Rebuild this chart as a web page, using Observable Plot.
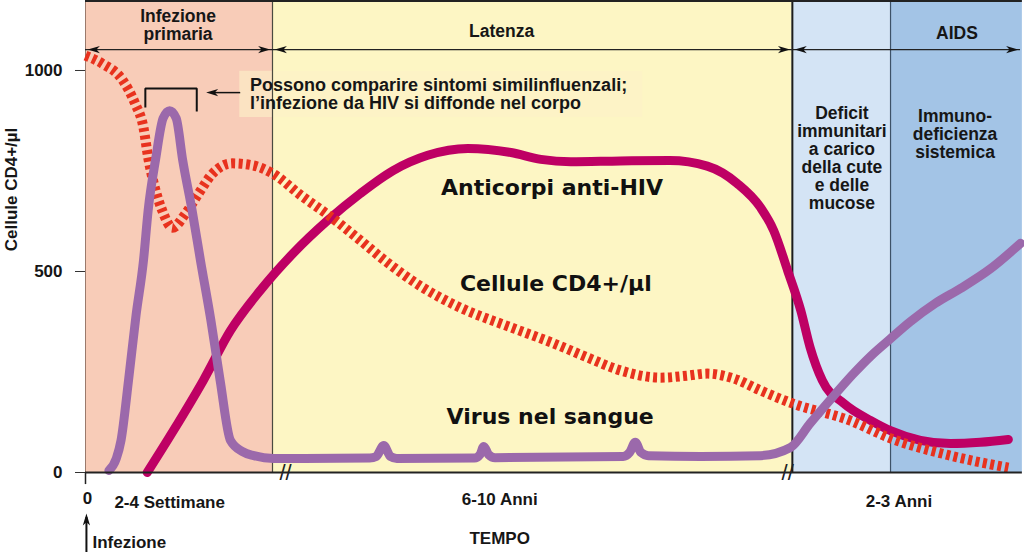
<!DOCTYPE html>
<html><head><meta charset="utf-8">
<script src="https://cdn.jsdelivr.net/npm/d3@7"></script>
<script src="https://cdn.jsdelivr.net/npm/@observablehq/plot@0.6"></script>
<style>html,body{margin:0;padding:0;background:#fff;} #chart svg{display:block;}</style>
</head><body><div id="chart"></div>
<script>
// ---- data (time in arbitrary units 0..100 along a broken axis, values in cells/µl) ----
const phaseNames = ["Infezione primaria", "Latenza", "Deficit", "AIDS"];
const phaseStart = [0, 20, 75.6, 86.1];
const phaseEnd = [20, 75.6, 86.1, 100.2];

const arrowStart = [0, 20, 75.6];
const arrowEnd = [20, 75.6, 100];

const phaseLabelText = ["Infezione\nprimaria", "Latenza", "AIDS"];
const phaseLabelT = [9.9, 44.5, 93.2];
const phaseLabelV = [1113, 1097, 1092];

const stageText = ["Deficit\nimmunitari\na carico\ndella cute\ne delle\nmucose", "Immuno-\ndeficienza\nsistemica"];
const stageT = [80.9, 93.0];
const stageV = [781, 841];

const curveNames = ["Anticorpi anti-HIV", "Cellule CD4+/µl", "Virus nel sangue"];
const curveLabelT = [49.9, 50.3, 49.7];
const curveLabelV = [709, 470, 137];

const yTicks = [0, 500, 1000];
const timeLabels = ["2-4 Settimane", "6-10 Anni", "2-3 Anni"];
const timeLabelT = [9.0, 44.3, 87.0];
const timeLabelV = [-75, -67, -72];
const axisBreakT = [21.4, 75.1];

const cd4T = [0, 1.8, 4.0, 5.3, 6.2, 6.7, 7.3, 8.2, 9.3, 10.7, 12.1, 13.6, 15.7, 17.9, 20.0, 23.0, 26.0, 29.0, 32.3, 35.8, 40.1, 45.5, 50.1, 53.7, 57.2, 61.5, 64.4, 66.5, 69.3, 72.2, 75.6, 81.8, 86.1, 92.5, 98.7];
const cd4V = [1037, 1017, 975, 918, 858, 784, 719, 652, 609, 644, 694, 744, 769, 764, 744, 690, 640, 585, 522, 464, 410, 361, 321, 286, 254, 236, 241, 246, 234, 204, 172, 129, 85, 42, 12];

const abT = [6.6, 9.4, 12.6, 15.5, 18.7, 22.2, 25.9, 29.4, 32.9, 36.6, 40.9, 45.5, 48.7, 51.9, 57.2, 62.5, 66.5, 69.7, 72.2, 73.6, 75.1, 76.5, 77.5, 78.8, 81.1, 84.0, 86.1, 89.3, 92.5, 95.7, 98.7];
const abV = [0, 104, 229, 353, 453, 545, 627, 694, 751, 789, 806, 796, 779, 773, 775, 776, 762, 719, 659, 602, 502, 403, 311, 229, 172, 129, 104, 80, 72, 75, 82];

const virT = [2.5, 3.3, 3.8, 4.6, 5.4, 6.2, 6.7, 7.5, 8.3, 9.0, 9.7, 10.4, 11.4, 12.3, 13.4, 14.4, 15.5, 16.8, 18.0, 20.1, 30.4, 31.1, 31.9, 32.6, 33.3, 41.6, 42.2, 42.6, 43.1, 43.8, 57.5, 58.2, 58.8, 59.4, 60.2, 65.8, 72.2, 75.4, 77.5, 80.0, 82.1, 84.0, 86.1, 88.2, 90.9, 93.6, 96.8, 100];
const virV = [5, 35, 80, 229, 390, 527, 652, 779, 881, 900, 881, 776, 652, 527, 380, 229, 80, 52, 42, 35, 36, 40, 67, 40, 35, 36, 45, 65, 45, 37, 40, 50, 75, 50, 42, 40, 42, 62, 122, 190, 245, 290, 333, 375, 421, 458, 507, 570];

const noteText = "Possono comparire sintomi similinfluenzali;\nl’infezione da HIV si diffonde nel corpo";
const noteT = [17.6];
const noteV = [940];
const noteBoxT = [16.5, 59.6];
const noteBoxV = [883, 998];
const bracketT = [6.4, 6.4, 11.9, 11.9];
const bracketV = [908, 955, 955, 898];
const noteArrowT = [16.6, 12.9];
const noteArrowV = 945;

const yDomain = [-211.4, 1174.1];

// ---- tables built from arrays ----
const phases = phaseNames.map((n, i) => ({name: n, x1: phaseStart[i], x2: phaseEnd[i]}));
const spans = arrowStart.map((s, i) => ({x1: s, x2: arrowEnd[i]}));
const heads = spans.flatMap(s => [{t: s.x1 + 0.25, dir: 180}, {t: s.x2 - 0.25, dir: 0}]);
const zip = (T, V) => T.map((t, i) => ({t, v: V[i]}));
const cd4 = zip(cd4T, cd4V), ab = zip(abT, abV), vir = zip(virT, virV);
const bracket = zip(bracketT, bracketV);

const head = { draw(ctx, size) { const L = Math.sqrt(size); ctx.moveTo(0, 0); ctx.lineTo(-L, -0.3 * L); ctx.lineTo(-0.72 * L, 0); ctx.lineTo(-L, 0.3 * L); ctx.closePath(); } };

const SANS = "'Liberation Sans', Arial, Helvetica, sans-serif";
const HEAVY = "'DejaVu Sans', 'Liberation Sans', sans-serif";
const INK = "#161616";
const ARROW_V = 1052;

const chart = Plot.plot({
  width: 1024, height: 557,
  marginLeft: 85, marginRight: 4, marginTop: 0, marginBottom: 0,
  x: {domain: [0, 100], axis: null},
  y: {domain: yDomain},
  color: {domain: phaseNames, range: ["#f8ccb8", "#fdf6c4", "#d4e4f5", "#a3c4e6"]},
  style: {fontFamily: SANS, background: "white", color: INK},
  marks: [
    Plot.rect(phases, {x1: "x1", x2: "x2", y1: 0, y2: yDomain[1], fill: "name"}),
    Plot.rect([0], {x1: noteBoxT[0], x2: noteBoxT[1], y1: noteBoxV[0], y2: noteBoxV[1], fill: "#fdf1c8", fillOpacity: 0.6}),
    Plot.ruleX([phaseStart[0]], {y1: 0, y2: yDomain[1], stroke: "#9b7a6c", strokeWidth: 1}),
    Plot.ruleX([phaseStart[1]], {y1: 0, y2: yDomain[1], stroke: "#4a4a40", strokeWidth: 1.2}),
    Plot.ruleX([phaseStart[2]], {y1: 0, y2: yDomain[1], stroke: "#1c1c1c", strokeWidth: 2}),
    Plot.ruleX([phaseStart[3]], {y1: 0, y2: yDomain[1], stroke: "#3d5268", strokeWidth: 1.2}),
    Plot.ruleY([yDomain[1] - 1], {x1: 0, x2: 100.2, stroke: "#222", strokeWidth: 2}),
    // phase arrows
    Plot.ruleY(spans, {x1: "x1", x2: "x2", y: ARROW_V, stroke: "#222", strokeWidth: 1.3}),
    Plot.dot(heads, {x: "t", y: ARROW_V, rotate: "dir", symbol: head, r: 6.8, fill: "#111", stroke: "none"}),
    Plot.text(phaseLabelText, {x: (d, i) => phaseLabelT[i], y: (d, i) => phaseLabelV[i], text: d => d, fontSize: 17.5, fontWeight: "bold", lineHeight: 1.03, fill: INK}),
    Plot.text(stageText, {x: (d, i) => stageT[i], y: (d, i) => stageV[i], text: d => d, fontSize: 17.5, fontWeight: "bold", lineHeight: 1.03, fill: INK}),
    // annotation
    Plot.line(bracket, {x: "t", y: "v", stroke: "#111", strokeWidth: 2, curve: "linear", strokeLinecap: "butt", strokeLinejoin: "miter"}),
    Plot.ruleY([noteArrowV], {x1: noteArrowT[0], x2: noteArrowT[1] + 0.6, stroke: "#111", strokeWidth: 1.5}),
    Plot.dot([noteArrowT[1]], {x: d => d, y: noteArrowV, rotate: 180, symbol: head, r: 6.8, fill: "#111", stroke: "none"}),
    Plot.text([noteText], {x: noteT[0], y: noteV[0], text: d => d, textAnchor: "start", fontSize: 18, fontWeight: "bold", lineHeight: 1.0, fill: INK}),
    // curves
    Plot.line(ab, {x: "t", y: "v", stroke: "#be0064", strokeWidth: 9, curve: "monotone-x", strokeLinecap: "round", strokeLinejoin: "round"}),
    Plot.line(cd4, {x: "t", y: "v", stroke: "#e8321e", strokeWidth: 10, strokeDasharray: "4,3.5", strokeLinecap: "butt", curve: "monotone-x"}),
    Plot.line(vir, {x: "t", y: "v", stroke: "#9b69ab", strokeWidth: 9, curve: "monotone-x", strokeLinecap: "round", strokeLinejoin: "round"}),
    Plot.text(curveNames, {x: (d, i) => curveLabelT[i], y: (d, i) => curveLabelV[i], text: d => d, fontFamily: HEAVY, fontSize: 22, fontWeight: "bold", fill: "#111"}),
    // axes
    Plot.ruleY([0], {x1: 0, x2: 100.2, stroke: "#222", strokeWidth: 2}),
    Plot.ruleX([0], {y1: -30, y2: 0, stroke: "#222", strokeWidth: 1.5}),
    Plot.text(axisBreakT, {x: d => d, y: 0, text: () => "//", fontSize: 22, fill: "#222"}),
    Plot.axisY(yTicks, {tickSize: 10, tickPadding: 13, tickFormat: d => String(d), fontSize: 17, fontWeight: "bold", label: null, stroke: "#333", fill: INK}),
    Plot.text(["Cellule CD4+/µl"], {x: -7.9, y: 704, text: d => d, rotate: -90, fontSize: 17, fontWeight: "bold", fill: INK}),
    Plot.text(["0"], {x: 0.2, y: -65, text: d => d, fontSize: 17, fontWeight: "bold", fill: INK}),
    Plot.text(timeLabels, {x: (d, i) => timeLabelT[i], y: (d, i) => timeLabelV[i], text: d => d, fontSize: 17, fontWeight: "bold", fill: INK}),
    Plot.text(["TEMPO"], {x: 44.3, y: -164, text: d => d, fontSize: 17, fontWeight: "bold", fill: INK}),
    Plot.text(["Infezione"], {x: 0.75, y: -174, text: d => d, textAnchor: "start", fontSize: 17, fontWeight: "bold", fill: INK}),
    Plot.ruleX([0.1], {y1: -199, y2: -112, stroke: "#111", strokeWidth: 2}),
    Plot.dot([0.1], {x: d => d, y: -102, rotate: -90, symbol: head, r: 6.8, fill: "#111", stroke: "none"})
  ]
});
document.getElementById("chart").appendChild(chart);
</script></body></html>
